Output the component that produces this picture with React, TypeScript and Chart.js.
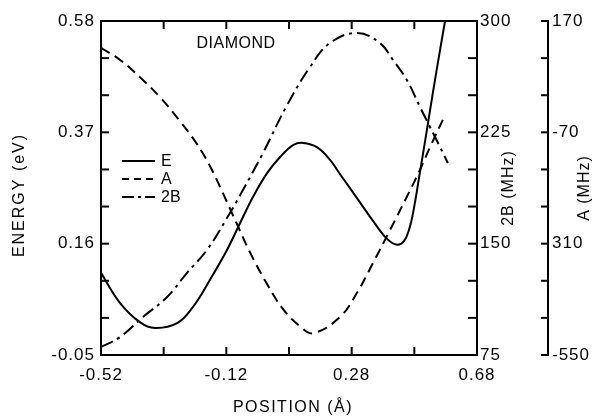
import React, { useEffect, useRef } from 'react';
import { Chart, registerables } from 'chart.js';
Chart.register(...registerables);

// ---- data ----
const posE = [-0.52, -0.459, -0.396, -0.348, -0.277, -0.226, -0.172, -0.118, -0.076, -0.035, 0.01, 0.051, 0.093, 0.125, 0.169, 0.211, 0.243, 0.297, 0.348, 0.393, 0.425, 0.447, 0.463, 0.476, 0.498, 0.52, 0.539, 0.562, 0.578];
const energyE = [0.105, 0.048, 0.012, 0.001, 0.01, 0.041, 0.092, 0.148, 0.199, 0.248, 0.293, 0.323, 0.346, 0.35, 0.342, 0.318, 0.291, 0.246, 0.203, 0.169, 0.158, 0.165, 0.186, 0.218, 0.295, 0.374, 0.444, 0.525, 0.58];

const posA = [-0.52, -0.459, -0.396, -0.332, -0.268, -0.214, -0.172, -0.131, -0.086, -0.045, 0.01, 0.061, 0.115, 0.157, 0.243, 0.297, 0.348, 0.402, 0.456, 0.498, 0.53, 0.571];
const valuesA = [112, 86, 49, 6, -46, -95, -143, -201, -268, -328, -397, -451, -488, -503, -468, -416, -352, -281, -209, -151, -102, -43];

const pos2B = [-0.52, -0.459, -0.386, -0.309, -0.246, -0.182, -0.118, -0.067, -0.003, 0.074, 0.147, 0.211, 0.297, 0.37, 0.412, 0.456, 0.498, 0.53, 0.562, 0.587];
const values2B = [80.4, 87.1, 100.6, 114.1, 130.2, 145.7, 167.3, 186.1, 211.1, 243.4, 269, 285.2, 291.9, 285.2, 273.7, 260.3, 242.1, 228.6, 215.1, 204.3];

// ---- axes ----
const xLabelTicks = [-0.52, -0.12, 0.28, 0.68];
const xLabels = ['-0.52', '-0.12', '0.28', '0.68'];
const xMinorTicks = [-0.52, -0.32, -0.12, 0.08, 0.28, 0.48, 0.68];

const energyLabelTicks = [-0.05, 0.16, 0.37, 0.58];
const energyLabels = ['-0.05', '0.16', '0.37', '0.58'];
const energyMinorTicks = [-0.05, 0.02, 0.09, 0.16, 0.23, 0.3, 0.37, 0.44, 0.51, 0.58];

const bLabelTicks = [75, 150, 225, 300];
const bLabels = ['75', '150', '225', '300'];
const bMinorTicks = [75, 100, 125, 150, 175, 200, 225, 250, 275, 300];

const aLabelTicks = [-550, -310, -70, 170];
const aLabels = ['-550', '310', '-70', '170'];
const aMinorTicks = [-550, -470, -390, -310, -230, -150, -70, 10, 90, 170];

const FONT = 'Liberation Sans';

function line(ctx: CanvasRenderingContext2D, x1: number, y1: number, x2: number, y2: number) {
  ctx.beginPath();
  ctx.moveTo(x1, y1);
  ctx.lineTo(x2, y2);
  ctx.stroke();
}

function vText(ctx: CanvasRenderingContext2D, text: string, x: number, y: number, spacing: string) {
  ctx.save();
  ctx.translate(x, y);
  ctx.rotate(-Math.PI / 2);
  ctx.letterSpacing = spacing;
  ctx.textAlign = 'center';
  ctx.textBaseline = 'middle';
  ctx.fillText(text, 0, 0);
  ctx.restore();
}

const decorPlugin = {
  id: 'decor',
  beforeDraw(chart: any) {
    chart.ctx.letterSpacing = '1px';
  },
  afterDraw(chart: any) {
    const ctx: CanvasRenderingContext2D = chart.ctx;
    ctx.letterSpacing = '0px';
    const { left, right, top, bottom } = chart.chartArea;
    const sx = chart.scales.x;
    const sE = chart.scales.yE;
    const sB = chart.scales.yB;
    const sA = chart.scales.yA;
    ctx.save();
    ctx.strokeStyle = '#000';
    ctx.fillStyle = '#000';
    ctx.lineWidth = 2;
    ctx.lineCap = 'butt';
    line(ctx, left - 1, top, right + 1, top);
    for (const v of xMinorTicks) {
      const px = sx.getPixelForValue(v);
      line(ctx, px, bottom, px, bottom - 8);
      line(ctx, px, top, px, top + 8);
    }
    for (const v of energyMinorTicks) {
      const py = sE.getPixelForValue(v);
      line(ctx, left, py, left + 8, py);
    }
    for (const v of bMinorTicks) {
      const py = sB.getPixelForValue(v);
      line(ctx, right, py, right - 9, py);
    }
    const ax = sA.left;
    for (const v of aMinorTicks) {
      const py = sA.getPixelForValue(v);
      line(ctx, ax, py, ax - 7, py);
    }

    // titles
    ctx.font = `16px "${FONT}"`;
    vText(ctx, 'ENERGY (eV)', 20, 195, '2px');
    vText(ctx, '2B (MHz)', 509, 188, '1px');
    vText(ctx, 'A (MHz)', 585, 188, '1px');
    ctx.letterSpacing = '1.5px';
    ctx.textAlign = 'center';
    ctx.textBaseline = 'middle';
    ctx.fillText('POSITION (Å)', 293, 408);
    ctx.letterSpacing = '0.5px';
    ctx.fillText('DIAMOND', 236, 44);

    // legend
    const legendItems = [
      { label: 'E', dash: [] as number[], y: 161 },
      { label: 'A', dash: [7, 5], y: 179 },
      { label: '2B', dash: [12, 4, 3, 4], y: 197 },
    ];
    ctx.letterSpacing = '0px';
    ctx.textAlign = 'left';
    for (const it of legendItems) {
      ctx.setLineDash(it.dash);
      line(ctx, 122, it.y, 155, it.y);
      ctx.setLineDash([]);
      ctx.fillText(it.label, 161, it.y + 1);
    }
    ctx.restore();
  },
};

export default function App() {
  const ref = useRef<HTMLCanvasElement | null>(null);
  useEffect(() => {
    if (!ref.current) return;
    const tickFont = { family: FONT, size: 17 };
    const common = {
      showLine: true,
      borderColor: '#000',
      borderWidth: 2,
      pointRadius: 0,
      tension: 0.4,
    };
    const chart = new Chart(ref.current, {
      type: 'scatter',
      data: {
        datasets: [
          { ...common, label: 'E', data: posE.map((x, i) => ({ x, y: energyE[i] })), yAxisID: 'yE' },
          { ...common, label: 'A', data: posA.map((x, i) => ({ x, y: valuesA[i] })), yAxisID: 'yA', borderDash: [10, 6] },
          { ...common, label: '2B', data: pos2B.map((x, i) => ({ x, y: values2B[i] })), yAxisID: 'yB', borderDash: [13, 5, 3, 5] },
        ],
      },
      options: {
        animation: false,
        responsive: false,
        events: [],
        layout: { padding: { top: 21, left: 0, right: 0, bottom: 0 } },
        plugins: { legend: { display: false }, tooltip: { enabled: false } },
        scales: {
          x: {
            type: 'linear',
            position: 'bottom',
            min: -0.52,
            max: 0.68,
            afterBuildTicks: (s: any) => { s.ticks = xLabelTicks.map((v) => ({ value: v })); },
            afterFit: (s: any) => { s.height = 64; },
            ticks: {
              autoSkip: false,
              maxRotation: 0,
              padding: 10,
              color: '#000',
              font: tickFont,
              callback: (v: any) => xLabels[xLabelTicks.indexOf(Number(v))] ?? '',
            },
            grid: { display: true, drawOnChartArea: false, drawTicks: false },
            border: { display: true, color: '#000', width: 2 },
          },
          yE: {
            type: 'linear',
            position: 'left',
            min: -0.05,
            max: 0.58,
            afterBuildTicks: (s: any) => { s.ticks = energyLabelTicks.map((v) => ({ value: v })); },
            afterFit: (s: any) => { s.width = 101; },
            ticks: {
              autoSkip: false,
              padding: 6,
              color: '#000',
              font: tickFont,
              callback: (v: any) => energyLabels[energyLabelTicks.indexOf(Number(v))] ?? '',
            },
            grid: { display: true, drawOnChartArea: false, drawTicks: false },
            border: { display: true, color: '#000', width: 2 },
          },
          yB: {
            type: 'linear',
            position: 'right',
            weight: 0,
            min: 75,
            max: 300,
            afterBuildTicks: (s: any) => { s.ticks = bLabelTicks.map((v) => ({ value: v })); },
            afterFit: (s: any) => { s.width = 71; },
            ticks: {
              autoSkip: false,
              padding: 3,
              color: '#000',
              font: tickFont,
              callback: (v: any) => bLabels[bLabelTicks.indexOf(Number(v))] ?? '',
            },
            grid: { display: true, drawOnChartArea: false, drawTicks: false },
            border: { display: true, color: '#000', width: 2 },
          },
          yA: {
            type: 'linear',
            position: 'right',
            weight: 1,
            min: -550,
            max: 170,
            afterBuildTicks: (s: any) => { s.ticks = aLabelTicks.map((v) => ({ value: v })); },
            afterFit: (s: any) => { s.width = 48; },
            ticks: {
              autoSkip: false,
              padding: 4,
              color: '#000',
              font: tickFont,
              callback: (v: any) => aLabels[aLabelTicks.indexOf(Number(v))] ?? '',
            },
            grid: { display: true, drawOnChartArea: false, drawTicks: false },
            border: { display: true, color: '#000', width: 2 },
          },
        },
      },
      plugins: [decorPlugin],
    } as any);
    return () => chart.destroy();
  }, []);
  return (
    <div style={{ position: 'absolute', left: 0, top: 0, width: 596, height: 419, background: '#fff' }}>
      <canvas ref={ref} width={596} height={419} style={{ width: 596, height: 419, display: 'block' }} />
    </div>
  );
}
